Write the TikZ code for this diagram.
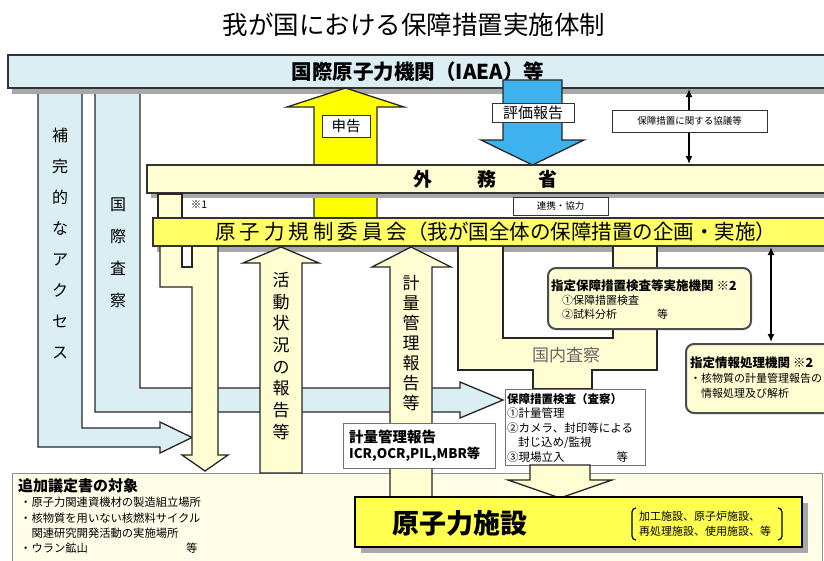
\documentclass[tikz,border=0pt]{standalone}
\usepackage{fontspec}
\setmainfont{Noto Sans CJK JP}
\usetikzlibrary{arrows.meta}
\definecolor{lblue}{HTML}{DAEEF3}
\definecolor{lyel}{HTML}{FFFDD2}
\definecolor{pyel}{HTML}{FFFDE8}
\definecolor{myel}{HTML}{FFFF66}
\definecolor{yel}{HTML}{FFFF00}
\definecolor{fyel}{HTML}{FFFF50}
\definecolor{sky}{HTML}{3DB2EE}
\definecolor{shd}{HTML}{A8A8A8}
\tikzset{
  arr/.style={draw=black!85, line width=1.3pt, line join=miter},
  bigbar/.style={draw=black!80, line width=2.4pt},
  lbl/.style={draw=black!80, fill=white, line width=1pt, inner sep=1pt},
  rbox/.style={draw=black!70, line width=2pt, rounded corners=8pt, fill=lyel},
  wbox/.style={draw=black!55, line width=0.8pt, fill=white},
  dbl/.style={{Latex[length=8pt,width=7pt]}-{Latex[length=8pt,width=7pt]}, line width=1.8pt},
  vt/.style={align=center, inner sep=0pt},
}
\begin{document}
\begin{tikzpicture}[x=1pt,y=-1pt]
\useasboundingbox (0,0) rectangle (824,560);
\clip (0,0) rectangle (824,560);
\fill[white] (0,0) rectangle (824,560);

% title
\node[font=\fontsize{25.5}{25.5}\selectfont] (title) at (414,25) {我が国における保障措置実施体制};

% additional protocol box
\draw[draw=black!45, line width=0.8pt, fill=pyel] (12,473) rectangle (822,580);
\node[anchor=north west, inner sep=0pt, font=\bfseries\fontsize{15}{15}\selectfont] (ap) at (18,478) {追加議定書の対象};
\node[anchor=north west, inner sep=0pt, align=left, font=\fontsize{11.3}{15.3}\selectfont] (aplist) at (20,497) {・原子力関連資機材の製造組立場所\\・核物質を用いない核燃料サイクル\\\hspace{11.3pt}関連研究開発活動の実施場所\\・ウラン鉱山\hspace{98pt}等};

% left columns (light blue)
\draw[arr, fill=lblue] (38,80) -- (38,447) -- (160,447) -- (160,453) -- (192,437.5) -- (160,422) -- (160,428) -- (82,428) -- (82,80) -- cycle;
\draw[arr, fill=lblue] (95,80) -- (95,412) -- (460,412) -- (460,418) -- (503,400) -- (460,382) -- (460,388) -- (140,388) -- (140,80) -- cycle;
\node[vt, font=\fontsize{16}{31}\selectfont] (hokan) at (60,243) {補\\完\\的\\な\\ア\\ク\\セ\\ス};
\node[vt, font=\fontsize{16}{32}\selectfont] (kokusai) at (118,253) {国\\際\\査\\察};

% IAEA bar
\fill[shd] (12,61) rectangle (830,94);
\draw[bigbar, fill=lblue] (8,55) rectangle (830,88);
\node[font=\bfseries\fontsize{20.5}{20.5}\selectfont] (iaea) at (418,72) {国際原子力機関（IAEA）等};

% declaration arrow (up, yellow)
\draw[arr, fill=yel] (314,219) -- (314,107) -- (287,107) -- (345.5,88) -- (404,107) -- (377,107) -- (377,219) -- cycle;
\node[lbl, font=\fontsize{14.5}{14.5}\selectfont, minimum width=48, minimum height=22] (shinkoku) at (346,126) {申告};

% evaluation report arrow (down, blue)
\draw[arr, fill=sky] (503,80) -- (503,140) -- (481,140) -- (532.5,165) -- (584,140) -- (562,140) -- (562,80) -- cycle;
\node[lbl, font=\fontsize{15}{15}\selectfont, minimum width=82, minimum height=19] (hyoka) at (533,113) {評価報告};

% consultation double arrow
\coordinate (kyA) at (689,89);
\coordinate (kyB) at (689,164);
\draw[dbl] (kyA) -- (kyB);
\node[lbl, font=\fontsize{9.5}{9.5}\selectfont, minimum width=155, minimum height=22] (kyogi) at (689.5,121) {保障措置に関する協議等};

% MOFA bar
\fill[shd] (151,170) rectangle (830,198);
\draw[bigbar, fill=lyel] (147,165) rectangle (830,193);
\node[font=\bfseries\fontsize{19}{19}\selectfont] (gai) at (423,179) {外};
\node[font=\bfseries\fontsize{19}{19}\selectfont] (mu) at (487,179) {務};
\node[font=\bfseries\fontsize{19}{19}\selectfont] (sho) at (548,179) {省};

% *1 connector
\draw[arr, fill=lyel] (158,194) rectangle (182,218);
\node[font=\fontsize{10.5}{10.5}\selectfont] (kome1) at (199,205) {※1};

% cooperation label
\node[lbl, font=\fontsize{9.5}{9.5}\selectfont, minimum width=95, minimum height=18] (renkei) at (560.5,206) {連携・協力};

% NRA bar shadow
\fill[shd] (157,223) rectangle (830,252);

% down arrow from *1 / NRA
\draw[arr, fill=lyel] (160,240) -- (160,287) -- (192,287) -- (192,455) -- (182,455) -- (205,471) -- (228,455) -- (218,455) -- (218,240) -- cycle;
\draw[arr, fill=white] (182,240) rectangle (192,267);

% activity report arrow (up)
\draw[arr, fill=lyel] (260,473) -- (260,263) -- (243,263) -- (281,247) -- (319,263) -- (302,263) -- (302,473) -- cycle;
\node[vt, font=\fontsize{17}{21.7}\selectfont] (katsudo) at (281,356) {活\\動\\状\\況\\の\\報\\告\\等};

% accounting report arrow (up)
\draw[arr, fill=lyel] (390,497) -- (390,267) -- (372,267) -- (411,247) -- (451,267) -- (432,267) -- (432,497) -- cycle;
\node[vt, font=\fontsize{17}{20}\selectfont] (keiryo) at (411,343) {計\\量\\管\\理\\報\\告\\等};

% domestic inspection band
\draw[arr, fill=lyel] (458,240) -- (458,370) -- (533,370) -- (533,389) -- (592,389) -- (592,370) -- (657,370) -- (657,328) -- (613,328) -- (613,338) -- (503,338) -- (503,240) -- cycle;
\node[font=\fontsize{17}{17}\selectfont, text=black!60] (kokunai) at (566,355) {国内査察};

% connector to designated inspection body
\draw[arr, fill=lyel] (613,240) rectangle (657,268);

% NRA bar
\draw[bigbar, fill=myel] (153,218) rectangle (830,246);
\node[anchor=west, inner sep=0pt, font=\fontsize{20.5}{20.5}\selectfont] (nra) at (215,232) {原\kern4pt 子\kern4pt 力\kern4pt 規\kern4pt 制\kern4pt 委\kern4pt 員\kern4pt 会（我が国全体の保障措置の企画・実施）};

% designated inspection body
\node[rbox, anchor=north west, minimum width=203, minimum height=61, inner sep=0pt] (shitei) at (547,267) {};
\node[anchor=north west, inner sep=0pt, align=left, font=\fontsize{11}{14}\selectfont] (shiteitxt) at (551,279) {{\bfseries\fontsize{12.5}{14}\selectfont 指定保障措置検査等実施機関 ※2}\\\hspace{11pt}①保障措置検査\\\hspace{11pt}②試料分析\hspace{40pt}等};

% designated information processing body
\node[rbox, anchor=north west, minimum width=170, minimum height=69, inner sep=0pt] (joho) at (685,343) {};
\node[anchor=north west, inner sep=0pt, align=left, font=\fontsize{11}{15}\selectfont] (johotxt) at (690,357) {{\bfseries\fontsize{12.5}{15}\selectfont 指定情報処理機関 ※2}\\・核物質の計量管理報告の\\\hspace{11pt}情報処理及び解析};

\coordinate (jA) at (771,247);
\coordinate (jB) at (771,342);
\draw[dbl] (jA) -- (jB);

% safeguards inspection box
\node[wbox, anchor=north west, minimum width=140, minimum height=76, inner sep=0pt] (kensa) at (505,389) {};
\node[anchor=north west, inner sep=0pt, align=left, font=\fontsize{11.5}{14.5}\selectfont] (kensatxt) at (507,393) {{\bfseries 保障措置検査（査察）}\\①計量管理\\②カメラ、封印等による\\\hspace{11pt}封じ込め/監視\\③現場立入\hspace{52pt}等};

% down arrow to facility
\draw[arr, fill=lyel] (530,465) -- (530,480) -- (508,480) -- (560,498) -- (612,480) -- (590,480) -- (590,465) -- cycle;

% accounting report label
\node[wbox, anchor=north west, minimum width=152, minimum height=45, inner sep=0pt] (kreport) at (343,423) {};
\node[anchor=north west, inner sep=0pt, align=left, font=\bfseries\fontsize{14.5}{16}\selectfont] (kreporttxt) at (349,430) {計量管理報告\\{\fontsize{13.3}{16}\selectfont ICR,OCR,PIL,MBR等}};

% nuclear facility
\fill[shd] (361,503) rectangle (808,553);
\draw[draw=black, line width=2.2pt, fill=fyel] (355,497) rectangle (802,547);
\node[font=\bfseries\fontsize{27}{27}\selectfont] (facility) at (460,523) {原子力施設};
\node[anchor=west, inner sep=0pt, align=left, font=\fontsize{11}{15}\selectfont] (facitems) at (639,524) {加工施設、原子炉施設、\\再処理施設、使用施設、等};
\draw[line width=1.2pt] (636,508) to[out=180,in=90] (632,512) -- (632,536) to[out=-90,in=180] (636,540);
\draw[line width=1.2pt] (778,508) to[out=0,in=90] (782,512) -- (782,536) to[out=-90,in=0] (778,540);

\end{tikzpicture}
\end{document}
